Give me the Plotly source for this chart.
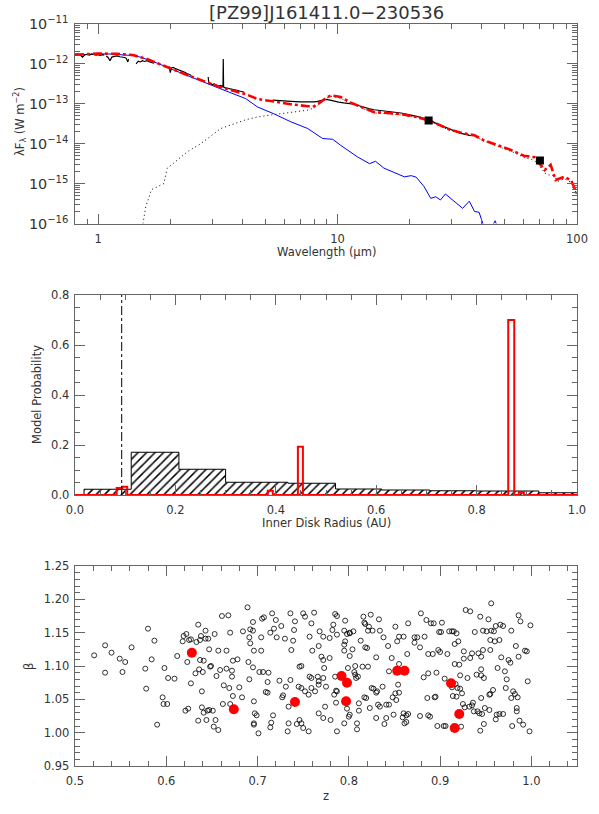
import plotly.graph_objects as go

# ---------------- SED panel data (wavelength in micron, lambda*F_lambda in W m^-2) ----------------
spec_a_wav = [0.80, 0.82, 0.84, 0.86, 0.88, 0.90, 0.92, 0.94, 0.96, 0.98, 1.00, 1.02, 1.04, 1.06]
spec_a_flux = [1.74e-12, 1.78e-12, 1.70e-12, 1.48e-12, 1.70e-12, 1.74e-12, 1.66e-12, 1.78e-12, 1.70e-12,
               1.66e-12, 1.70e-12, 1.62e-12, 1.70e-12, 1.66e-12]
spec_b_wav = [1.08, 1.10, 1.12, 1.14, 1.17, 1.20, 1.23, 1.26, 1.29, 1.31, 1.33, 1.34]
spec_b_flux = [1.58e-12, 1.45e-12, 1.20e-12, 1.48e-12, 1.55e-12, 1.58e-12, 1.51e-12, 1.51e-12, 1.45e-12,
               1.38e-12, 1.12e-12, 1.32e-12]
spec_c_wav = [1.44, 1.47, 1.50, 1.53, 1.56, 1.60, 1.64, 1.68, 1.71]
spec_c_flux = [1.00e-12, 1.17e-12, 1.12e-12, 1.20e-12, 1.15e-12, 1.20e-12, 1.12e-12, 1.10e-12, 1.05e-12]
spec_d_wav = [1.98, 2.00, 2.02, 2.06, 2.10, 2.15, 2.20, 2.25, 2.30, 2.35, 2.40, 2.45]
spec_d_flux = [8.51e-13, 6.03e-13, 7.94e-13, 8.13e-13, 7.59e-13, 7.24e-13, 6.92e-13, 6.46e-13, 6.17e-13,
               5.75e-13, 5.50e-13, 5.13e-13]
spec_e_wav = [2.88, 2.90, 2.95, 3.00, 3.05, 3.10, 3.15, 3.20, 3.25, 3.30, 3.32, 3.33, 3.34, 3.40, 3.50,
              3.60, 3.70, 3.80, 3.90, 4.00, 4.08]
spec_e_flux = [4.68e-13, 3.16e-13, 3.24e-13, 3.02e-13, 3.16e-13, 2.95e-13, 2.88e-13, 2.82e-13, 2.88e-13,
               2.75e-13, 2.63e-13, 1.32e-12, 2.63e-13, 2.51e-13, 2.45e-13, 2.34e-13, 2.24e-13, 2.19e-13,
               2.09e-13, 2.04e-13, 1.95e-13]
irs_wav = [5.35, 5.6, 5.97, 6.4, 7.0, 7.4, 7.74, 8.0, 8.25, 8.6, 8.94, 9.3, 9.65, 10.1, 10.6, 11.1, 11.7,
           12.3, 12.9, 13.5, 14.2, 15.2, 16.2, 17.3, 18.4, 19.8, 21.3, 22.3, 24.2, 25.5, 26.9, 28.8, 30.8,
           32.3, 33.8, 35.0, 36.1]
irs_flux = [1.23e-13, 1.20e-13, 1.15e-13, 1.15e-13, 1.12e-13, 1.10e-13, 1.10e-13, 1.12e-13, 1.15e-13,
            1.23e-13, 1.29e-13, 1.23e-13, 1.15e-13, 1.10e-13, 1.05e-13, 1.02e-13, 9.77e-14, 8.91e-14,
            8.13e-14, 7.59e-14, 7.08e-14, 6.76e-14, 6.46e-14, 6.17e-14, 5.89e-14, 5.37e-14, 4.79e-14,
            4.57e-14, 3.80e-14, 3.39e-14, 2.95e-14, 2.45e-14, 2.04e-14, 1.86e-14, 1.74e-14, 1.66e-14,
            1.58e-14]
phot_wav = [24.0, 70.0]
phot_flux = [3.8e-14, 3.8e-15]

star_wav = [0.80, 0.90, 1.00, 1.10, 1.20, 1.30, 1.40, 1.50, 1.60, 1.80, 2.00, 2.30, 2.77, 3.20, 3.60, 4.13,
            4.63, 5.42, 6.37, 7.50, 8.66, 9.54, 10.3, 12.1, 13.6, 14.4, 15.6, 17.3, 19.0, 20.3, 21.3, 23.0,
            24.5, 25.7, 26.9, 28.2, 30.3, 33.3, 35.5, 37.3, 39.0, 40.3, 42.0, 45.5, 48.0]
star_flux = [1.66e-12, 1.74e-12, 1.78e-12, 1.78e-12, 1.74e-12, 1.70e-12, 1.62e-12, 1.48e-12, 1.29e-12,
             1.00e-12, 7.59e-13, 5.37e-13, 3.39e-13, 2.45e-13, 1.86e-13, 1.35e-13, 8.32e-14, 5.62e-14,
             3.55e-14, 2.40e-14, 1.35e-14, 1.29e-14, 9.12e-15, 4.68e-15, 3.16e-15, 3.63e-15, 2.45e-15,
             1.91e-15, 1.48e-15, 1.58e-15, 1.45e-15, 8.32e-16, 4.27e-16, 4.68e-16, 3.89e-16, 5.50e-16,
             3.89e-16, 2.40e-16, 3.63e-16, 2.00e-16, 1.91e-16, 1.00e-16, 5.0e-17, 1.17e-16, 5.0e-17]

model_wav = [0.80, 0.90, 1.00, 1.20, 1.40, 1.60, 1.80, 2.00, 2.40, 2.77, 3.20, 3.60, 4.13, 4.63, 5.42, 6.37,
             7.50, 8.00, 8.40, 9.00, 9.40, 10.3, 11.35, 12.9, 14.2, 16.2, 18.4, 21.3, 24.2, 29.2, 33.0, 37.3,
             41.0, 46.8, 53.0, 60.0, 66.5, 69.8, 73.3, 77.6, 81.4, 88.5, 94.6, 98.9, 100.0]
model_flux = [1.70e-12, 1.78e-12, 1.82e-12, 1.78e-12, 1.66e-12, 1.32e-12, 1.02e-12, 7.76e-13, 5.01e-13,
              3.63e-13, 2.69e-13, 2.19e-13, 1.74e-13, 1.32e-13, 1.12e-13, 9.77e-14, 8.71e-14, 8.71e-14,
              1.05e-13, 1.45e-13, 1.62e-13, 1.48e-13, 1.07e-13, 7.76e-14, 6.17e-14, 5.89e-14, 5.50e-14,
              4.68e-14, 3.80e-14, 2.29e-14, 1.86e-14, 1.62e-14, 1.20e-14, 9.12e-15, 6.92e-15, 5.01e-15,
              4.57e-15, 3.16e-15, 2.19e-15, 2.95e-15, 1.23e-15, 1.48e-15, 1.20e-15, 6.31e-16, 5.62e-16]

disk_wav = [1.50, 1.54, 1.58, 1.67, 1.81, 1.88, 1.94, 2.14, 2.36, 2.68, 3.14, 3.25, 4.13, 4.63, 5.42, 6.37,
            7.5, 8.0, 8.25, 9.0, 9.4, 10.3, 11.35, 12.9, 14.2, 16.2, 18.4, 21.3, 24.2, 29.2, 33.0, 37.3,
            41.0, 46.8, 53.0, 60.0, 66.5, 70.0, 74.3, 79.6, 83.5, 88.5, 94.6, 99.0, 100.0]
disk_flux = [3.98e-17, 1.00e-16, 2.63e-16, 7.08e-16, 8.71e-16, 1.00e-15, 2.40e-15, 3.89e-15, 6.31e-15,
             1.00e-14, 2.00e-14, 2.40e-14, 3.98e-14, 4.68e-14, 5.37e-14, 6.17e-14, 6.92e-14, 7.94e-14,
             9.12e-14, 1.38e-13, 1.55e-13, 1.38e-13, 1.02e-13, 7.41e-14, 5.89e-14, 5.62e-14, 5.25e-14,
             4.57e-14, 3.72e-14, 2.19e-14, 1.78e-14, 1.55e-14, 1.15e-14, 8.51e-15, 6.46e-15, 4.57e-15,
             3.80e-15, 2.69e-15, 1.70e-15, 1.58e-15, 1.15e-15, 1.32e-15, 1.07e-15, 6.03e-16, 5.50e-16]

# ---------------- Histogram panel data ----------------
all_bin_left = [0.0, 0.018, 0.112, 0.207, 0.300, 0.424, 0.519, 0.611, 0.707, 0.799, 0.924, 1.0]
all_prob = [0.0, 0.023, 0.171, 0.103, 0.051, 0.047, 0.024, 0.020, 0.017, 0.016, 0.009, 0.009]
best_bin_left = [0.0, 0.083, 0.094, 0.104, 0.384, 0.394, 0.444, 0.454, 0.863, 0.875, 0.884, 0.894, 1.0]
best_prob = [0.0, 0.028, 0.033, 0.0, 0.017, 0.0, 0.193, 0.0, 0.70, 0.0, 0.012, 0.0, 0.0]
dust_sub_radius = 0.093

# ---------------- z / beta scatter data ----------------
z_models = [0.521, 0.533, 0.540, 0.533, 0.549, 0.552, 0.555, 0.562, 0.577, 0.578, 0.580, 0.584, 0.587, 0.590,
            0.596, 0.598, 0.597, 0.601, 0.602, 0.609, 0.612, 0.618, 0.619, 0.621, 0.622, 0.623, 0.624, 0.625,
            0.627, 0.627, 0.632, 0.633, 0.635, 0.635, 0.636, 0.637, 0.637, 0.638, 0.639, 0.639, 0.640, 0.641,
            0.641, 0.643, 0.643, 0.644, 0.645, 0.646, 0.647, 0.647, 0.648, 0.649, 0.651, 0.652, 0.653, 0.654,
            0.655, 0.657, 0.657, 0.659, 0.661, 0.662, 0.663, 0.666, 0.666, 0.668, 0.669, 0.670, 0.670, 0.672,
            0.672, 0.673, 0.673, 0.678, 0.680, 0.683, 0.684, 0.689, 0.690, 0.691, 0.691, 0.692, 0.692, 0.695,
            0.695, 0.695, 0.696, 0.696, 0.697, 0.696, 0.696, 0.699, 0.701, 0.702, 0.704, 0.704, 0.705, 0.706,
            0.707, 0.709, 0.711, 0.711, 0.712, 0.714, 0.714, 0.715, 0.716, 0.717, 0.718, 0.720, 0.721, 0.724,
            0.726, 0.727, 0.728, 0.730, 0.731, 0.733, 0.734, 0.734, 0.736, 0.736, 0.737, 0.739, 0.740, 0.741,
            0.743, 0.745, 0.746, 0.746,
            0.750, 0.752, 0.762, 0.759, 0.757, 0.760, 0.748, 0.757, 0.759, 0.748, 0.752, 0.756, 0.763, 0.759,
            0.767, 0.768, 0.772, 0.770, 0.772, 0.773, 0.766, 0.767, 0.767, 0.772, 0.775, 0.774, 0.767, 0.772,
            0.748, 0.750, 0.756, 0.779, 0.779, 0.780, 0.782, 0.783, 0.785, 0.787, 0.787, 0.787, 0.784, 0.785,
            0.786, 0.786, 0.787, 0.795, 0.796, 0.796, 0.795, 0.795, 0.798, 0.801, 0.801, 0.799, 0.801, 0.804,
            0.805, 0.806, 0.807, 0.807, 0.808, 0.810, 0.811, 0.811, 0.809, 0.809, 0.801, 0.800, 0.795, 0.798,
            0.813, 0.815, 0.816, 0.817, 0.818, 0.820, 0.818, 0.821, 0.822, 0.824, 0.826, 0.821, 0.817, 0.819,
            0.823, 0.825, 0.827, 0.830, 0.830, 0.832, 0.833, 0.834, 0.834, 0.831, 0.830, 0.837, 0.838, 0.841,
            0.843, 0.844, 0.844, 0.847, 0.848, 0.851, 0.851, 0.854, 0.853, 0.855, 0.852, 0.855, 0.855, 0.849,
            0.839, 0.841, 0.860, 0.860, 0.863, 0.861, 0.863, 0.865, 0.864, 0.859, 0.865, 0.872, 0.872, 0.875,
            0.878, 0.879, 0.878, 0.882, 0.883, 0.885, 0.887, 0.887, 0.887, 0.886, 0.889, 0.890, 0.893, 0.892,
            0.894, 0.895, 0.897, 0.896, 0.898, 0.899, 0.900, 0.901, 0.902, 0.904, 0.905, 0.906, 0.908, 0.910,
            0.913, 0.913, 0.914, 0.915, 0.916, 0.916, 0.917, 0.918, 0.920, 0.921, 0.922, 0.922, 0.924, 0.919,
            0.918, 0.923, 0.925, 0.926, 0.926, 0.927, 0.928, 0.930, 0.932, 0.933, 0.933, 0.935, 0.935, 0.936,
            0.937, 0.938, 0.940, 0.941, 0.942, 0.943, 0.944, 0.944, 0.945, 0.945, 0.945, 0.945, 0.946, 0.947,
            0.947, 0.948, 0.948, 0.949, 0.951, 0.953, 0.954, 0.954, 0.955, 0.955, 0.955, 0.956, 0.956, 0.958,
            0.959, 0.960, 0.961, 0.961, 0.962, 0.963, 0.965, 0.965, 0.966, 0.967, 0.969, 0.969, 0.971, 0.972,
            0.973, 0.975, 0.977, 0.978, 0.978, 0.979, 0.980, 0.982, 0.983, 0.984, 0.984, 0.985, 0.986, 0.986,
            0.987, 0.988, 0.991, 0.993, 0.995, 0.996, 0.998, 0.999]
beta_models = [1.116, 1.131, 1.120, 1.090, 1.111, 1.091, 1.106, 1.128, 1.096, 1.066, 1.156, 1.110, 1.138, 1.012,
               1.053, 1.097, 1.043, 1.043, 1.082, 1.081, 1.115, 1.137, 1.145, 1.033, 1.148, 1.106, 1.036, 1.139,
               1.074, 1.140, 1.089, 1.136, 1.162, 1.018, 1.095, 1.109, 1.139, 1.145, 1.038, 1.062, 1.091, 1.108,
               1.030, 1.153, 1.141, 1.019, 1.033, 1.141, 1.034, 1.125, 1.099, 1.100, 1.033, 1.009, 1.148, 1.019,
               1.085, 1.004, 1.123, 1.094, 1.175, 1.043, 1.071, 1.096, 1.123, 1.176, 1.067, 1.043, 1.150, 1.093,
               1.084, 1.055, 1.108, 1.110, 1.068, 1.053, 1.152, 1.188, 1.106, 1.080, 1.143, 1.155, 1.134, 1.166,
               1.098, 1.153, 1.123, 1.047, 1.029, 1.014, 1.012, 1.026, 0.999, 1.091, 1.143, 1.123, 1.171, 1.091,
               1.173, 1.061, 1.060, 1.076, 1.090, 1.008, 1.150, 1.015, 1.179, 1.026, 1.156, 1.169, 1.143, 1.078,
               1.160, 1.053, 1.056, 1.141, 1.069, 1.002, 1.014, 1.039, 1.079, 1.179, 1.124, 1.138, 1.154, 1.167,
               1.013, 1.069, 1.099, 1.019,
               1.179, 1.174, 1.180, 1.164, 1.144, 1.123, 1.100, 1.084, 1.082, 1.067, 1.062, 1.057, 1.062, 1.067,
               1.130, 1.152, 1.144, 1.114, 1.109, 1.097, 1.084, 1.077, 1.072, 1.082, 1.069, 1.039, 1.029, 1.022,
               1.014, 1.007, 1.002, 1.142, 1.112, 1.019, 1.154, 1.162, 1.178, 1.175, 1.147, 1.062, 1.057, 1.084,
               1.063, 1.045, 1.002, 1.153, 1.168, 1.137, 1.132, 1.123, 1.148, 1.149, 1.150, 1.097, 1.115, 1.125,
               1.152, 1.091, 1.087, 1.100, 1.082, 1.084, 1.044, 1.033, 1.014, 1.005, 1.027, 1.024, 1.014, 1.036,
               1.138, 1.099, 1.174, 1.165, 1.163, 1.127, 1.128, 1.153, 1.159, 1.177, 1.153, 1.099, 1.053, 1.052,
               1.037, 1.067, 1.066, 1.113, 1.060, 1.042, 1.170, 1.153, 1.039, 1.062, 1.022, 1.069, 1.143, 1.042,
               1.130, 1.042, 1.092, 1.112, 1.053, 1.159, 1.059, 1.072, 1.137, 1.103, 1.049, 1.144, 1.060, 1.027,
               1.013, 1.022, 1.144, 1.029, 1.026, 1.014, 1.016, 1.164, 1.118, 1.023, 1.028, 1.135, 1.143, 1.143,
               1.128, 1.179, 1.025, 1.083, 1.144, 1.169, 1.118, 1.089, 1.026, 1.052, 1.024, 1.164, 1.164, 1.118,
               1.053, 1.054, 1.010, 1.090, 1.124, 1.151, 1.121, 1.151, 1.165, 1.010, 1.081, 1.010, 1.118, 1.152,
               1.068, 1.152, 1.055, 1.152, 1.103, 1.133, 1.073, 1.149, 1.137, 1.102, 1.086, 1.066, 1.059, 1.067,
               1.054, 1.009, 1.043, 1.111, 1.122, 1.038, 1.184, 1.082, 1.039, 1.182, 1.112, 1.041, 1.119, 1.045,
               1.032, 1.151, 1.087, 1.032, 1.119, 1.029, 1.174, 1.003, 1.086, 1.095, 1.114, 1.052, 1.028, 1.124,
               1.153, 1.082, 1.013, 1.037, 1.152, 1.170, 1.057, 1.034, 1.124, 1.139, 1.058, 1.153, 1.194, 1.064,
               1.152, 1.137, 1.160, 1.020, 1.027, 1.097, 1.028, 1.139, 1.162, 1.113, 1.028, 1.160, 1.092, 1.067,
               1.080, 1.109, 1.105, 1.153, 1.052, 1.010, 1.062, 1.058, 1.130, 1.037, 1.032, 1.053, 1.114, 1.176,
               1.018, 1.167, 1.012, 1.123, 1.122, 1.077, 1.002, 1.161]
z_best = [0.628, 0.674, 0.741, 0.792, 0.798, 0.797, 0.853, 0.861, 0.912, 0.921, 0.916]
beta_best = [1.120, 1.035, 1.046, 1.085, 1.075, 1.047, 1.093, 1.093, 1.074, 1.028, 1.007]

# ---------------- Figure ----------------
W, H = 599, 814
FONT = "DejaVu Sans ExtraLight, DejaVu Sans"
TXT = "#333333"
FRAME = "#666666"


def px(x):
    return x / W


def py(y):
    return 1 - y / H


def build(*segs):
    xs, ys = [], []
    for wv, fl in segs:
        xs += list(wv) + [None]
        ys += list(fl) + [None]
    return xs, ys


fig = go.Figure()

# SED panel
sx, sy = build((spec_a_wav, spec_a_flux), (spec_b_wav, spec_b_flux), (spec_c_wav, spec_c_flux),
               (spec_d_wav, spec_d_flux), (spec_e_wav, spec_e_flux), (irs_wav, irs_flux))
fig.add_trace(go.Scatter(x=disk_wav, y=disk_flux, mode="lines", line=dict(color="black", width=1, dash="1px,3px"),
                         xaxis="x", yaxis="y"))
fig.add_trace(go.Scatter(x=star_wav, y=star_flux, mode="lines", line=dict(color="#0000ff", width=1),
                         xaxis="x", yaxis="y"))
fig.add_trace(go.Scatter(x=sx, y=sy, mode="lines", line=dict(color="black", width=1.2), connectgaps=False,
                         xaxis="x", yaxis="y"))
fig.add_trace(go.Scatter(x=model_wav, y=model_flux, mode="lines", line=dict(color="#ff0000", width=2.6, dash="dashdot"),
                         xaxis="x", yaxis="y"))
fig.add_trace(go.Scatter(x=phot_wav, y=phot_flux, mode="markers",
                         marker=dict(symbol="square", size=8, color="black"), xaxis="x", yaxis="y"))

# Histogram panel
fig.add_trace(go.Scatter(x=all_bin_left, y=all_prob, mode="lines", line=dict(color="black", width=1, shape="hv"),
                         fill="tozeroy", fillcolor="rgba(0,0,0,0)",
                         fillpattern=dict(shape="/", fgcolor="black", bgcolor="rgba(0,0,0,0)", size=6, solidity=0.25),
                         xaxis="x2", yaxis="y2"))
fig.add_trace(go.Scatter(x=best_bin_left, y=best_prob, mode="lines", line=dict(color="#ff0000", width=2, shape="hv"),
                         xaxis="x2", yaxis="y2"))
fig.add_trace(go.Scatter(x=[dust_sub_radius, dust_sub_radius], y=[0, 0.8], mode="lines",
                         line=dict(color="black", width=1, dash="dashdot"), xaxis="x2", yaxis="y2"))

# z / beta panel
fig.add_trace(go.Scatter(x=z_models, y=beta_models, mode="markers",
                         marker=dict(symbol="circle-open", size=5, color="black", line=dict(width=0.8)),
                         xaxis="x3", yaxis="y3"))
fig.add_trace(go.Scatter(x=z_best, y=beta_best, mode="markers",
                         marker=dict(symbol="circle", size=10, color="#ff0000"),
                         xaxis="x3", yaxis="y3"))

XD = [px(75), px(577)]
common = dict(showline=True, linecolor=FRAME, linewidth=1.3, mirror="allticks", ticks="inside",
              ticklen=10, tickwidth=1, tickcolor=FRAME, showgrid=False, zeroline=False, automargin=False,
              tickfont=dict(family=FONT, size=11.5, color=TXT))
mnr = dict(ticks="inside", ticklen=5, tickcolor=FRAME, showgrid=False)

fig.update_layout(
    template="none",
    width=W, height=H, autosize=False, showlegend=False, hovermode=False,
    margin=dict(l=0, r=0, t=0, b=0, pad=0),
    paper_bgcolor="white", plot_bgcolor="white",
    xaxis=dict(common, type="log", range=[-0.09691, 2], domain=XD, anchor="y", dtick=1, ticklabelstandoff=4,
               minor=dict(mnr, dtick="D1")),
    yaxis=dict(common, type="log", range=[-16, -11], domain=[py(223.5), py(24)], anchor="x", dtick=1,
               exponentformat="power", ticklabelstandoff=3, minor=dict(mnr, dtick="D1")),
    xaxis2=dict(common, range=[0, 1], domain=XD, anchor="y2", dtick=0.2, tickformat=".1f", ticklabelstandoff=4,
                minor=dict(mnr, dtick=0.05)),
    yaxis2=dict(common, range=[0, 0.8], domain=[py(495), py(295)], anchor="x2", dtick=0.2, tickformat=".1f",
                ticklabelstandoff=2, minor=dict(mnr, dtick=0.05)),
    xaxis3=dict(common, range=[0.5, 1.05], domain=XD, anchor="y3", dtick=0.1, tickformat=".1f", ticklabelstandoff=4,
                minor=dict(mnr, dtick=0.02)),
    yaxis3=dict(common, range=[0.95, 1.25], domain=[py(766), py(566)], anchor="x3", dtick=0.05, tickformat=".2f",
                ticklabelstandoff=2, minor=dict(mnr, dtick=0.01)),
)

ann_font = dict(family=FONT, size=11.5, color=TXT)
annotations = [
    dict(text="[PZ99]J161411.0\u2212230536", x=px(326), y=py(12), font=dict(family=FONT, size=18, color=TXT)),
    dict(text="\u03bbF<sub>\u03bb</sub> (W m<sup>\u22122</sup>)", x=px(20), y=py(122), textangle=-90, font=ann_font),
    dict(text="Wavelength (\u03bcm)", x=px(326), y=py(252), font=ann_font),
    dict(text="Model Probability", x=px(37), y=py(395), textangle=-90, font=ann_font),
    dict(text="Inner Disk Radius (AU)", x=px(326), y=py(523), font=ann_font),
    dict(text="\u03b2", x=px(29), y=py(667), textangle=-90, font=ann_font),
    dict(text="z", x=px(326), y=py(796), font=ann_font),
]
for a in annotations:
    a.update(xref="paper", yref="paper", showarrow=False, xanchor="center", yanchor="middle")
fig.update_layout(annotations=annotations)

fig.write_html("out.html", config={"displayModeBar": False, "staticPlot": True},
               post_script="document.body.style.margin='0px';document.body.style.overflow='hidden';")
